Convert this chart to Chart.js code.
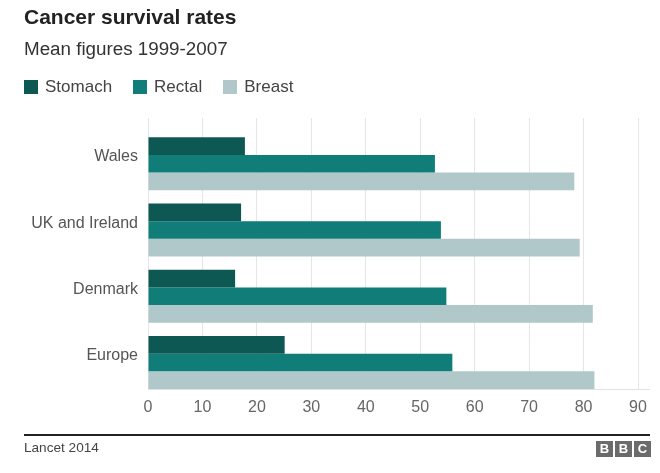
<!DOCTYPE html>
<html><head><meta charset="utf-8">
<script src="https://cdn.jsdelivr.net/npm/chart.js@4"></script>
<style>
html,body{margin:0;padding:0;background:#fff;}
body{width:660px;height:473px;position:relative;overflow:hidden;font-family:"Liberation Sans",Arial,sans-serif;}
#c{position:absolute;left:0;top:0;}
.t{position:absolute;white-space:nowrap;line-height:1;}
#legend{position:absolute;left:24px;top:78px;display:flex;align-items:center;font-size:17px;line-height:1;color:#444;}
#legend .it{display:flex;align-items:center;margin-right:21px;}
#legend .sw{width:14px;height:14px;margin-right:7px;}
#rule{position:absolute;left:24px;top:434px;width:626px;height:2px;background:#222;}
#axext{position:absolute;left:638px;top:389px;width:12px;height:1px;background:#e2e2e2;}
.bbc{position:absolute;top:441px;width:17px;height:16px;background:#6b6b6b;color:#fff;font-weight:bold;font-size:13px;line-height:16px;text-align:center;}
</style></head><body>
<canvas id="c" width="660" height="473"></canvas>
<div class="t" style="left:24px;top:6px;font-size:21px;font-weight:bold;color:#222">Cancer survival rates</div>
<div class="t" style="left:24px;top:39.5px;font-size:18.8px;color:#333">Mean figures 1999-2007</div>
<div id="legend"></div>
<div id="rule"></div>
<div id="axext"></div>
<div class="t" style="left:24px;top:440.5px;font-size:13.6px;color:#444">Lancet 2014</div>
<div class="bbc" style="left:596px">B</div>
<div class="bbc" style="left:615px">B</div>
<div class="bbc" style="left:634px">C</div>
<script>
const categories = ['Wales', 'UK and Ireland', 'Denmark', 'Europe'];
const seriesNames = ['Stomach', 'Rectal', 'Breast'];
const stomach = [17.8, 17.1, 16.0, 25.1];
const rectal = [52.7, 53.8, 54.8, 55.9];
const breast = [78.3, 79.3, 81.7, 82.0];
const xTicks = [0, 10, 20, 30, 40, 50, 60, 70, 80, 90];
const colors = ['#0d5853', '#107d78', '#b0c8c9'];

const seriesValues = [stomach, rectal, breast];
const fam = '"Liberation Sans", Arial, sans-serif';

const lg = document.getElementById('legend');
seriesNames.forEach((n, i) => {
  const it = document.createElement('div'); it.className = 'it';
  const sw = document.createElement('div'); sw.className = 'sw'; sw.style.background = colors[i];
  const tx = document.createElement('span'); tx.textContent = n;
  it.appendChild(sw); it.appendChild(tx); lg.appendChild(it);
});

new Chart(document.getElementById('c').getContext('2d'), {
  type: 'bar',
  data: {
    datasets: seriesValues.map((vals, i) => ({
      label: seriesNames[i],
      data: vals.map((v, j) => ({ x: v, y: j })),
      backgroundColor: colors[i],
      borderWidth: 0,
      categoryPercentage: 0.8,
      barPercentage: 1
    }))
  },
  options: {
    indexAxis: 'y',
    responsive: false,
    animation: false,
    layout: { padding: { top: 118, right: 22, bottom: 54, left: 0 } },
    plugins: { legend: { display: false }, tooltip: { enabled: false } },
    scales: {
      x: {
        type: 'linear', min: 0, max: 90,
        afterFit(s) { s.height = 30; },
        afterBuildTicks(s) { s.ticks = xTicks.map(v => ({ value: v })); },
        grid: { color: '#e6e6e6', drawTicks: false },
        border: { display: true, color: '#e2e2e2' },
        ticks: { padding: 9, font: { size: 16, family: fam }, color: '#666' }
      },
      y: {
        type: 'linear', reverse: true, min: -0.69, max: 3.4, offset: false,
        afterFit(s) { s.width = 148; },
        afterBuildTicks(s) { s.ticks = categories.map((c, i) => ({ value: i - 0.1 })); },
        ticks: { callback: (v, i) => categories[i], padding: 10, font: { size: 16, family: fam }, color: '#555' },
        grid: { display: false, drawTicks: false },
        border: { display: false }
      }
    }
  }
});
</script>
</body></html>
